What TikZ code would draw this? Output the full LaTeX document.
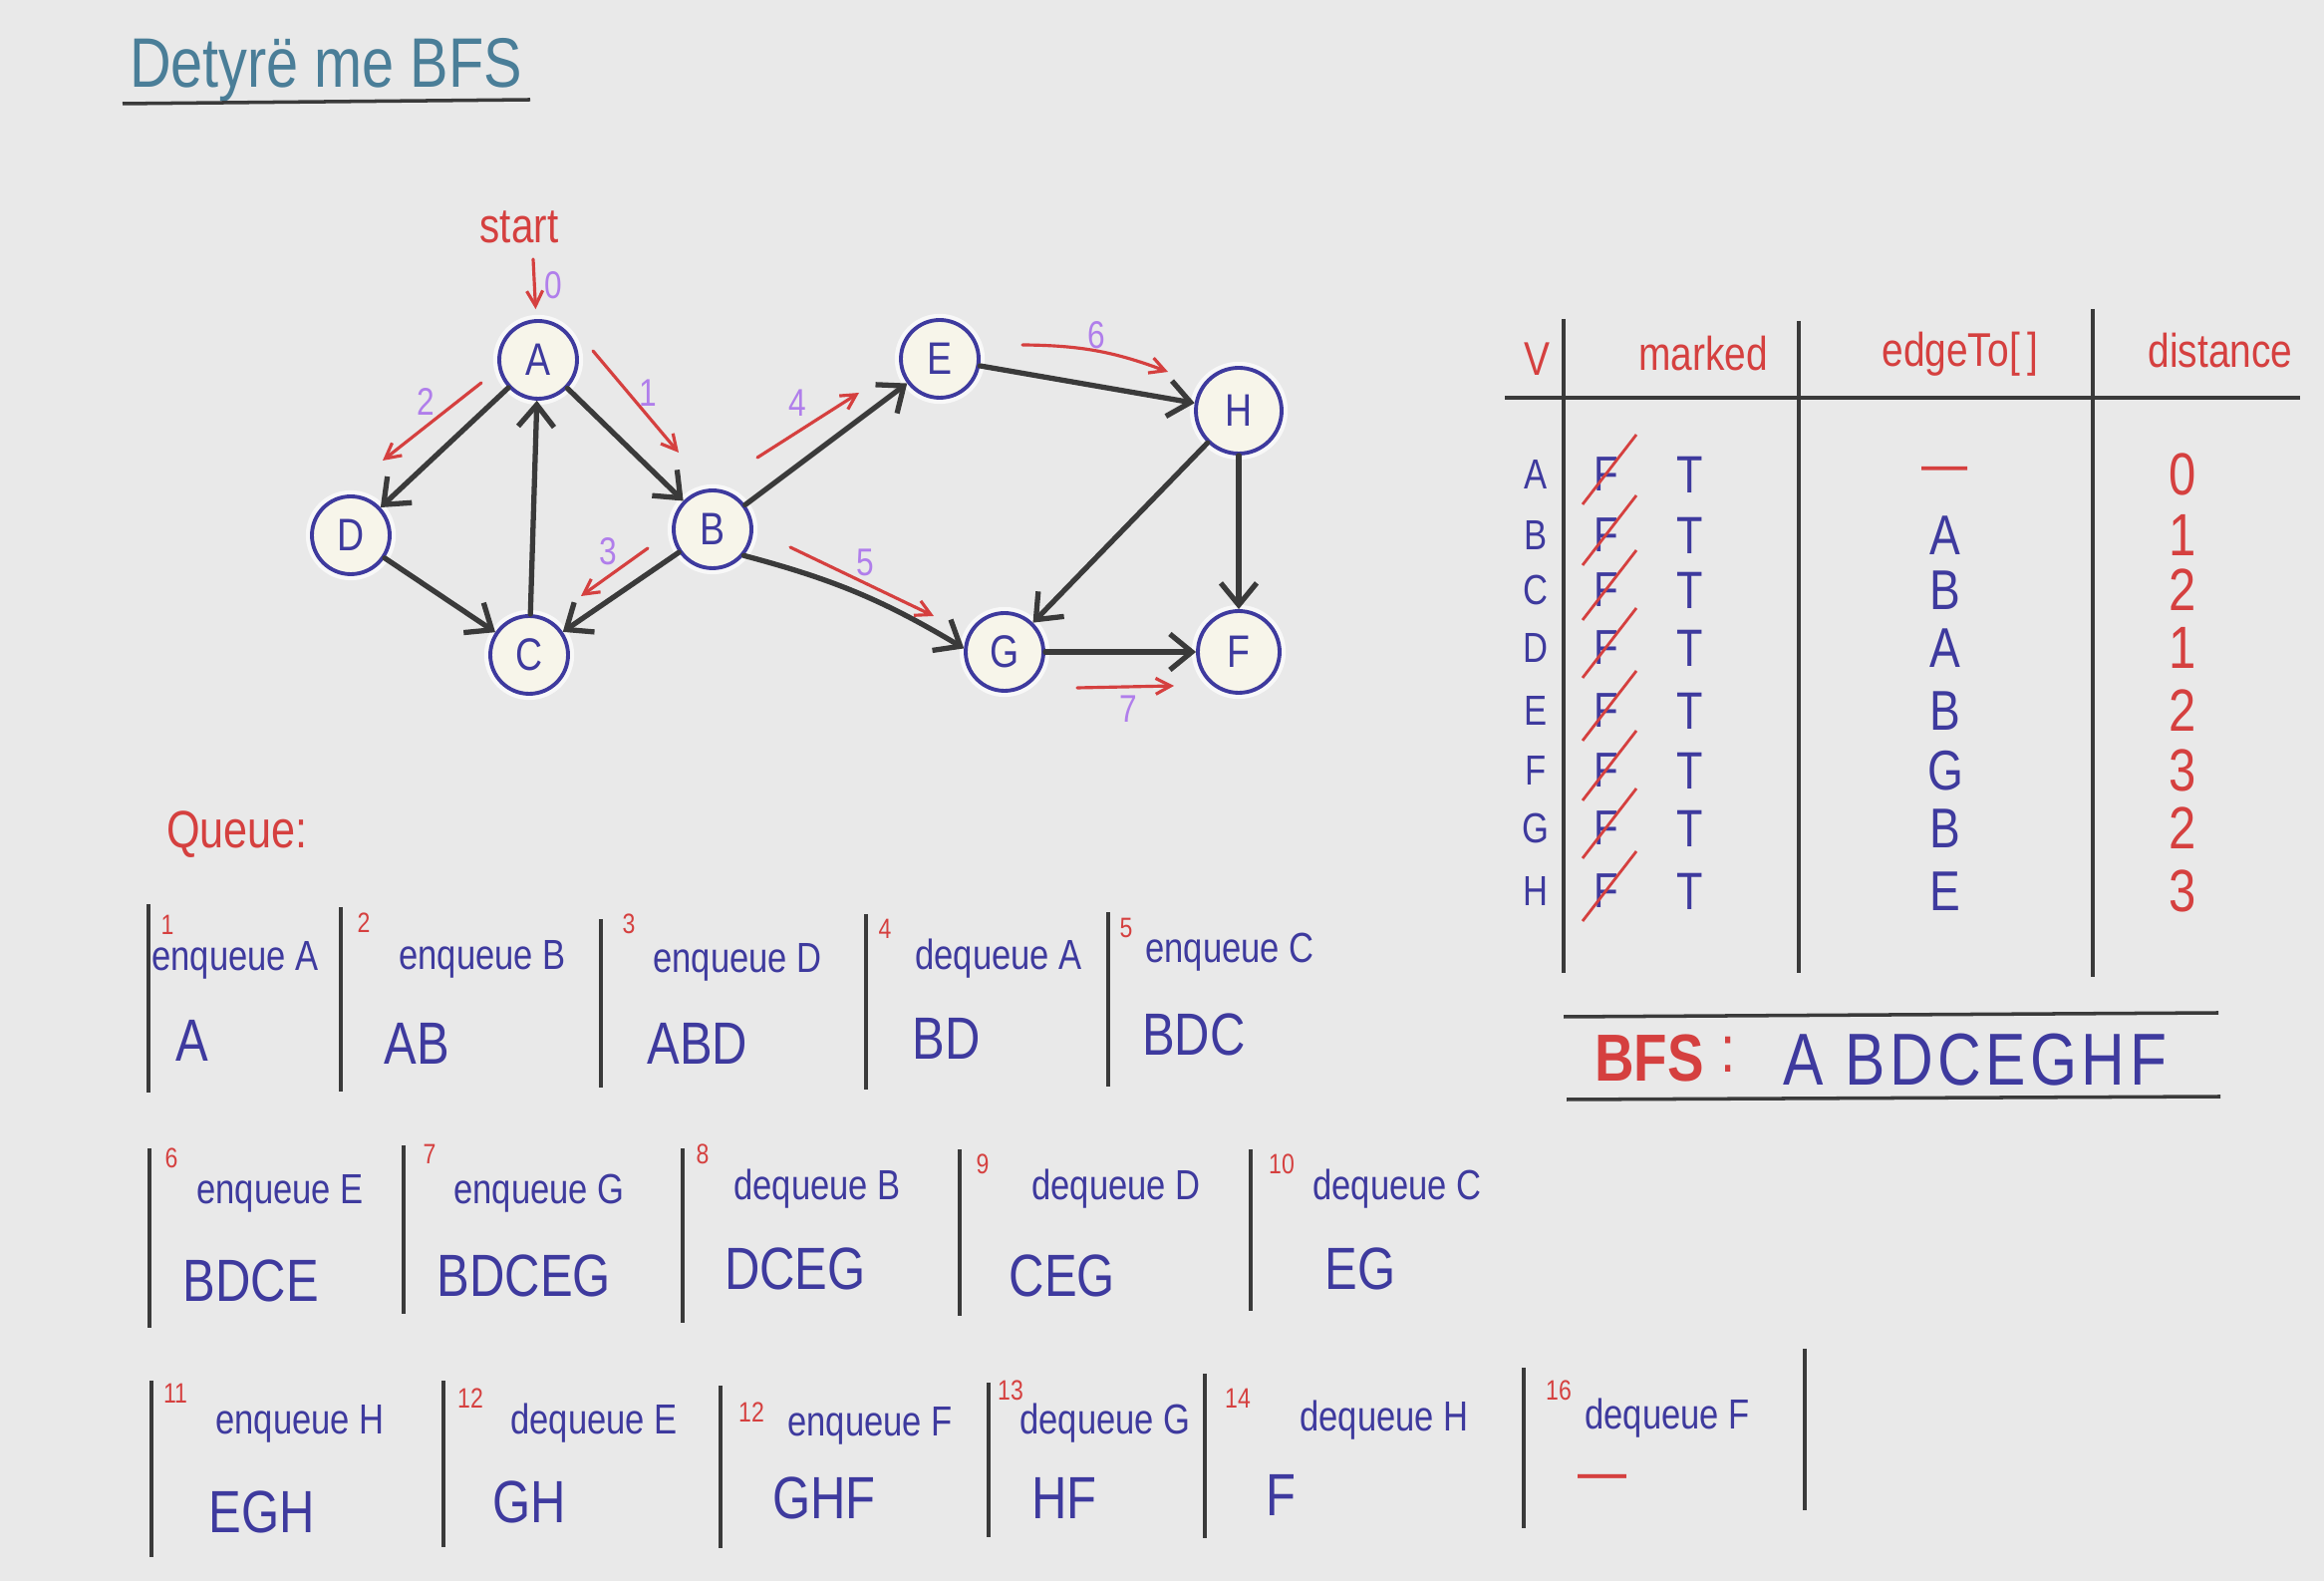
\documentclass[tikz,border=0pt]{standalone}
\usepackage{fontspec}
\setmainfont{Liberation Sans}[FakeStretch=0.82]
\usetikzlibrary{positioning,arrows.meta,calc}
\definecolor{paper}{HTML}{E9E9E9}
\definecolor{nodefill}{HTML}{F7F5EA}
\definecolor{inkblue}{HTML}{3E3A9E}
\definecolor{inkred}{HTML}{D5403F}
\definecolor{inkpurple}{HTML}{B07EEB}
\definecolor{inkteal}{HTML}{4A7E98}
\definecolor{inkgray}{HTML}{3A3A3A}

\tikzset{
  vertex/.style={circle,draw=inkblue,line width=1.1pt,fill=nodefill,minimum size=7.8mm,inner sep=0pt,
    text=inkblue,font=\fontsize{13}{15}\selectfont,preaction={draw=white,line width=3.5pt,opacity=0.7}},
  edge/.style={draw=inkgray,line width=1.5pt,line cap=round,-{Straight Barb[length=2.2mm,width=3.6mm]}},
  trav/.style={draw=inkred,line width=0.9pt,line cap=round,-{Straight Barb[length=1.5mm,width=1.6mm]}},
  steplbl/.style={text=inkpurple,font=\fontsize{11}{13}\selectfont},
  rule/.style={draw=inkgray,line width=1pt},
  bar/.style={draw=inkgray,line width=0.9pt},
  hdr/.style={text=inkred,font=\fontsize{13.5}{16}\selectfont},
  cell/.style={inner sep=1pt},
  optext/.style={text=inkblue,font=\fontsize{12}{14}\selectfont},
  qstate/.style={text=inkblue,font=\fontsize{17}{19}\selectfont},
  qnum/.style={text=inkred,font=\fontsize{8}{9}\selectfont}
}

\begin{document}
\begin{tikzpicture}[x=1cm,y=1cm]
  \useasboundingbox (0,0) rectangle (23.32,-15.86);
  \fill[paper] (0,0) rectangle (23.32,-15.86);

  % title
  \node[text=inkteal,font=\fontsize{20}{24}\selectfont] (title) at (3.27,-0.70) {Detyrë me BFS};
  \draw[rule] (1.23,-1.04) -- (5.32,-1.00);

  % graph
  \node[vertex] (A) at (5.40,-3.61) {A};
  \node[vertex] (D) at (3.52,-5.37) {D};
  \node[vertex] (C) at (5.31,-6.57) {C};
  \node[vertex] (B) at (7.15,-5.31) {B};
  \node[vertex] (E) at (9.43,-3.60) {E};
  \node[vertex,minimum size=8.6mm] (H) at (12.43,-4.12) {H};
  \node[vertex] (G) at (10.08,-6.54) {G};
  \node[vertex,minimum size=8.2mm] (F) at (12.43,-6.54) {F};

  \draw[edge] (A) -- (D);
  \draw[edge] (A) -- (B);
  \draw[edge] (C) -- (A);
  \draw[edge] (D) -- (C);
  \draw[edge] (B) -- (C);
  \draw[edge] (B) -- (E);
  \draw[edge] (B.-40) to[bend left=8] (G.175);
  \draw[edge] (E) -- (H);
  \draw[edge] (H) -- (G);
  \draw[edge] (H) -- (F);
  \draw[edge] (G) -- (F);

  % visiting order
  \node[text=inkred,font=\fontsize{14}{16}\selectfont] (start) at (5.21,-2.28) {start};
  \coordinate (t0) at (5.35,-2.60);
  \draw[trav,shorten >=1mm] (t0) -- (A);
  \node[steplbl] (n0) at (5.55,-2.86) {0};

  \coordinate (t1a) at (5.95,-3.52);  \coordinate (t1b) at (6.81,-4.54);
  \coordinate (t2a) at (4.83,-3.84);  \coordinate (t2b) at (3.84,-4.62);
  \coordinate (t3a) at (6.50,-5.50);  \coordinate (t3b) at (5.83,-5.98);
  \coordinate (t4a) at (7.60,-4.59);  \coordinate (t4b) at (8.62,-3.94);
  \coordinate (t5a) at (7.93,-5.49);  \coordinate (t5b) at (9.37,-6.18);
  \coordinate (t6a) at (10.26,-3.46); \coordinate (t6b) at (11.72,-3.73);
  \coordinate (t7a) at (10.81,-6.90); \coordinate (t7b) at (11.78,-6.88);
  \draw[trav] (t1a) -- (t1b);
  \draw[trav] (t2a) -- (t2b);
  \draw[trav] (t3a) -- (t3b);
  \draw[trav] (t4a) -- (t4b);
  \draw[trav] (t5a) -- (t5b);
  \draw[trav] (t6a) to[bend left=10] (t6b);
  \draw[trav] (t7a) -- (t7b);
  \node[steplbl] (n1) at (6.50,-3.94) {1};
  \node[steplbl] (n2) at (4.27,-4.03) {2};
  \node[steplbl] (n3) at (6.10,-5.53) {3};
  \node[steplbl] (n4) at (8.00,-4.04) {4};
  \node[steplbl] (n5) at (8.68,-5.64) {5};
  \node[steplbl] (n6) at (11.00,-3.36) {6};
  \node[steplbl] (n7) at (11.32,-7.11) {7};

  % table
  \draw[rule] (15.10,-3.99) -- (23.08,-3.99);
  \draw[rule] (15.69,-3.20) -- (15.69,-9.76);
  \draw[rule] (18.05,-3.22) -- (18.05,-9.76);
  \draw[rule] (21.00,-3.10) -- (21.00,-9.80);
  \node[hdr] (hV) at (15.42,-3.60) {V};
  \node[hdr] (hMarked) at (17.09,-3.55) {marked};
  \node[hdr] (hEdge) at (19.67,-3.55) {edgeTo[\,]};
  \node[hdr] (hDist) at (22.28,-3.52) {distance};
  \foreach \v/\y/\e/\ec/\d in {A/4.76/\textemdash/inkred/0, B/5.37/A/inkblue/1,
      C/5.92/B/inkblue/2, D/6.50/A/inkblue/1, E/7.13/B/inkblue/2,
      F/7.73/G/inkblue/3, G/8.31/B/inkblue/2, H/8.94/E/inkblue/3} {
    \node[cell,text=inkblue,font=\fontsize{12}{14}\selectfont] (r\v) at (15.41,-\y) {\v};
    \node[cell,text=inkblue,font=\fontsize{14}{16}\selectfont] (f\v) at (16.12,-\y) {F};
    \draw[draw=inkred,line width=0.8pt] ([shift={(-0.24,-0.30)}]f\v.center) -- ([shift={(0.30,0.40)}]f\v.center);
    \node[cell,text=inkblue,font=\fontsize{15}{17}\selectfont] (m\v) at (16.96,-\y) {T};
    \node[cell,text=\ec,font=\fontsize{16}{18}\selectfont] (e\v) at (19.52,-\y) {\e};
    \node[cell,text=inkred,font=\fontsize{17}{19}\selectfont] (d\v) at (21.90,-\y) {\d};
  }

  % BFS result
  \draw[rule] (15.69,-10.20) -- (22.26,-10.16);
  \draw[rule] (15.72,-11.03) -- (22.28,-11.00);
  \node[text=inkred,font=\fontsize{19}{21}\selectfont\bfseries] (bfsLbl) at (16.55,-10.62) {BFS};
  \node[text=inkred,font=\fontsize{19}{21}\selectfont] (bfsColon) at (17.34,-10.58) {:};
  \node[text=inkblue,font=\fontsize{21}{23}\selectfont\addfontfeature{LetterSpace=6}] (bfsOrder) at (19.82,-10.63) {A BDCEGHF};

  % queue
  \node[text=inkred,font=\fontsize{15}{17}\selectfont] (queueLbl) at (2.38,-8.37) {Queue:};

  \draw[bar] (1.49,-9.07) -- (1.49,-10.96);
  \draw[bar] (3.42,-9.10) -- (3.42,-10.95);
  \draw[bar] (6.03,-9.22) -- (6.03,-10.91);
  \draw[bar] (8.69,-9.17) -- (8.69,-10.93);
  \draw[bar] (11.12,-9.15) -- (11.12,-10.90);

  \draw[bar] (1.50,-11.52) -- (1.50,-13.32);
  \draw[bar] (4.05,-11.49) -- (4.05,-13.18);
  \draw[bar] (6.85,-11.52) -- (6.85,-13.27);
  \draw[bar] (9.63,-11.53) -- (9.63,-13.20);
  \draw[bar] (12.55,-11.53) -- (12.55,-13.15);

  \draw[bar] (1.52,-13.85) -- (1.52,-15.62);
  \draw[bar] (4.45,-13.85) -- (4.45,-15.52);
  \draw[bar] (7.23,-13.90) -- (7.23,-15.53);
  \draw[bar] (9.92,-13.87) -- (9.92,-15.42);
  \draw[bar] (12.09,-13.78) -- (12.09,-15.43);
  \draw[bar] (15.29,-13.72) -- (15.29,-15.33);
  \draw[bar] (18.11,-13.53) -- (18.11,-15.15);

  \foreach \i/\nx/\ny/\ox/\oy/\sx/\sy/\op/\st in {
      1/1.68/9.28/2.36/9.63/1.93/10.44/enqueue A/A,
      2/3.65/9.26/4.84/9.62/4.18/10.47/enqueue B/AB,
      3/6.31/9.27/7.40/9.65/7.00/10.47/enqueue D/ABD,
      4/8.88/9.32/10.02/9.62/9.50/10.42/dequeue A/BD,
      5/11.30/9.31/12.34/9.55/11.98/10.38/enqueue C/BDC,
      6/1.72/11.62/2.81/11.97/2.52/12.85/enqueue E/BDCE,
      7/4.31/11.58/5.41/11.97/5.26/12.80/enqueue G/BDCEG,
      8/7.05/11.58/8.20/11.93/7.98/12.73/dequeue B/DCEG,
      9/9.86/11.68/11.20/11.93/10.66/12.80/dequeue D/CEG,
      10/12.86/11.68/14.02/11.93/13.65/12.73/dequeue C/EG,
      11/1.76/13.98/3.01/14.28/2.63/15.17/enqueue H/EGH,
      12/4.72/14.03/5.96/14.28/5.31/15.07/dequeue E/GH,
      12/7.54/14.17/8.73/14.30/8.27/15.03/enqueue F/GHF,
      13/10.14/13.95/11.09/14.28/10.68/15.03/dequeue G/HF,
      14/12.42/14.03/13.89/14.25/12.85/15.00/dequeue H/F} {
    \node[qnum] (qn\nx) at (\nx,-\ny) {\i};
    \node[optext] (qo\nx) at (\ox,-\oy) {\op};
    \node[qstate] (qs\nx) at (\sx,-\sy) {\st};
  }
  \node[qnum] (qn16) at (15.64,-13.95) {16};
  \node[optext] (qo16) at (16.73,-14.23) {dequeue F};
  \node[qstate,text=inkred] (qs16) at (16.08,-14.88) {\textemdash};
\end{tikzpicture}
\end{document}
